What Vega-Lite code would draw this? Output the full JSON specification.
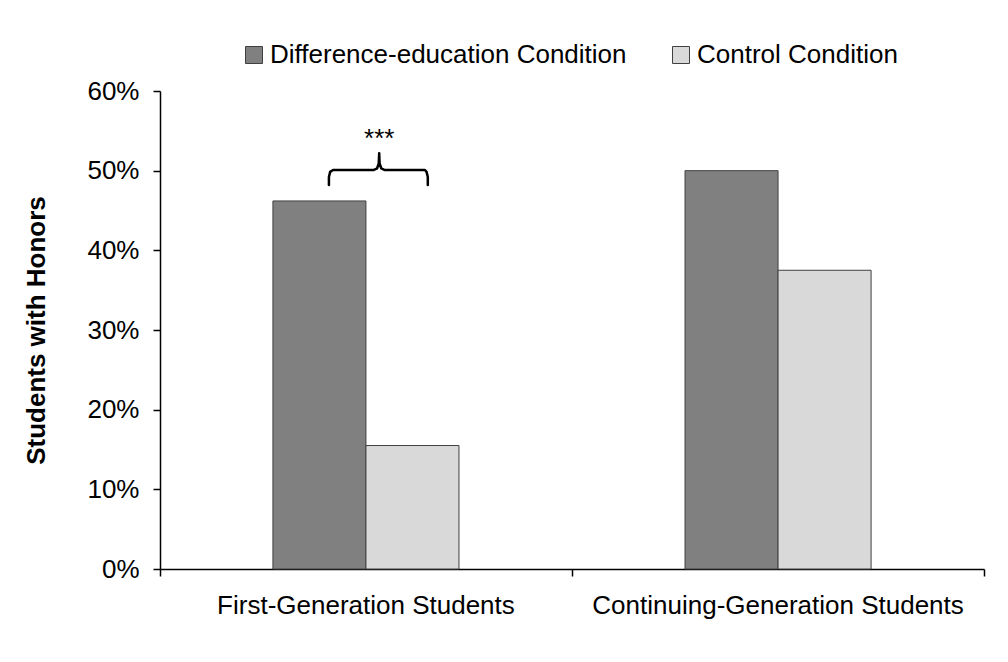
{
  "$schema": "https://vega.github.io/schema/vega-lite/v6.json",
  "width": 824,
  "height": 478,
  "autosize": {"type": "none"},
  "padding": {"left": 160, "top": 91, "right": 24, "bottom": 93},
  "background": "white",
  "config": {
    "font": "Liberation Sans",
    "view": {"stroke": null},
    "axis": {"grid": false, "domainColor": "black", "tickColor": "black", "labelColor": "black", "titleColor": "black", "labelFont": "Liberation Sans", "titleFont": "Liberation Sans"}
  },
  "datasets": {
    "bars": [
      {"group": "First-Generation Students", "condition": "Difference-education Condition", "value": 0.462},
      {"group": "First-Generation Students", "condition": "Control Condition", "value": 0.155},
      {"group": "Continuing-Generation Students", "condition": "Difference-education Condition", "value": 0.500},
      {"group": "Continuing-Generation Students", "condition": "Control Condition", "value": 0.375}
    ],
    "brace": [
      {"pos": 0.410, "value": 0.482, "order": 1},
      {"pos": 0.410, "value": 0.492, "order": 2},
      {"pos": 0.413, "value": 0.4985, "order": 3},
      {"pos": 0.420, "value": 0.5008, "order": 4},
      {"pos": 0.518, "value": 0.5008, "order": 5},
      {"pos": 0.527, "value": 0.503, "order": 6},
      {"pos": 0.531, "value": 0.509, "order": 7},
      {"pos": 0.532, "value": 0.522, "order": 8},
      {"pos": 0.533, "value": 0.509, "order": 9},
      {"pos": 0.537, "value": 0.503, "order": 10},
      {"pos": 0.546, "value": 0.5008, "order": 11},
      {"pos": 0.643, "value": 0.5008, "order": 12},
      {"pos": 0.647, "value": 0.4985, "order": 13},
      {"pos": 0.650, "value": 0.492, "order": 14},
      {"pos": 0.650, "value": 0.482, "order": 15}
    ],
    "sig": [
      {"pos": 0.532, "value": 0.530, "label": "***"}
    ]
  },
  "layer": [
    {
      "data": {"name": "bars"},
      "mark": {"type": "bar", "stroke": "#404040", "strokeWidth": 1},
      "encoding": {
        "x": {
          "field": "group", "type": "nominal",
          "sort": ["First-Generation Students", "Continuing-Generation Students"],
          "scale": {"paddingInner": 0.5485, "paddingOuter": 0.274},
          "axis": {"title": null, "labelAngle": 0, "ticks": false, "domain": true, "domainWidth": 1.5, "labelFontSize": 26, "labelPadding": 23, "labelLimit": 600}
        },
        "xOffset": {
          "field": "condition", "type": "nominal",
          "sort": ["Difference-education Condition", "Control Condition"],
          "scale": {"paddingInner": 0, "paddingOuter": 0}
        },
        "y": {
          "field": "value", "type": "quantitative",
          "scale": {"domain": [0, 0.6]},
          "axis": {"title": "Students with Honors", "values": [0, 0.1, 0.2, 0.3, 0.4, 0.5, 0.6], "format": ".0%", "labelFontSize": 26, "labelPadding": 14, "tickSize": 7, "tickWidth": 1.5, "domainWidth": 1.5, "titleFontSize": 26, "titleFontWeight": "bold", "titlePadding": 37}
        },
        "color": {
          "field": "condition", "type": "nominal",
          "sort": ["Difference-education Condition", "Control Condition"],
          "scale": {"range": ["#808080", "#d9d9d9"]},
          "legend": {"title": null, "orient": "none", "legendX": 81, "legendY": -49, "direction": "horizontal", "symbolType": "square", "symbolSize": 289, "symbolStrokeColor": "#404040", "symbolStrokeWidth": 1, "labelFontSize": 26, "labelColor": "black", "labelOffset": 3, "columnPadding": 41, "labelLimit": 500}
        }
      }
    },
    {
      "layer": [
        {
          "data": {"name": "brace"},
          "mark": {"type": "line", "color": "black", "strokeWidth": 2.5, "strokeCap": "round", "strokeJoin": "round"},
          "encoding": {
            "x": {"field": "pos", "type": "quantitative", "scale": {"domain": [0, 2], "nice": false, "zero": false}, "axis": {"orient": "bottom", "values": [0, 1, 2], "labels": false, "domain": false, "ticks": true, "tickSize": 7, "tickWidth": 1.5, "title": null}},
            "y": {"field": "value", "type": "quantitative"},
            "order": {"field": "order", "type": "quantitative"}
          }
        },
        {
          "data": {"name": "sig"},
          "mark": {"type": "text", "fontSize": 26, "color": "black", "align": "center", "baseline": "alphabetic"},
          "encoding": {
            "x": {"field": "pos", "type": "quantitative"},
            "y": {"field": "value", "type": "quantitative"},
            "text": {"field": "label"}
          }
        }
      ]
    }
  ],
  "resolve": {"scale": {"x": "independent"}, "axis": {"x": "independent"}}
}
